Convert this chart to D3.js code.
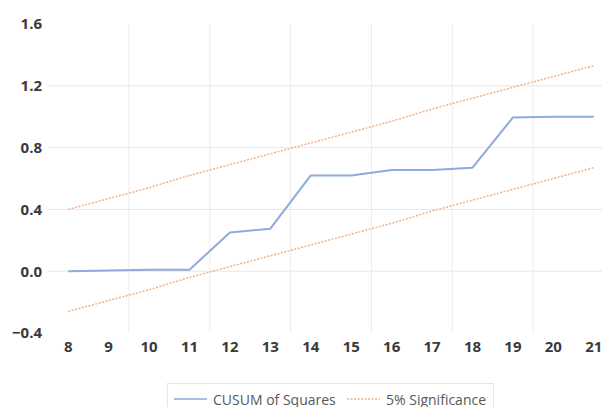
<!DOCTYPE html>
<html><head><meta charset="utf-8">
<script src="https://cdn.jsdelivr.net/npm/d3@7"></script>
<style>body{margin:0;background:#fff}svg{display:block}</style>
</head><body>
<svg id="c" width="602" height="407"></svg>
<script>
const categories = [8,9,10,11,12,13,14,15,16,17,18,19,20,21];
const cusumSq = [0.0,0.005,0.01,0.01,0.25,0.275,0.62,0.62,0.655,0.655,0.67,0.995,1.0,1.0];
const lower5 = [-0.26,-0.19,-0.12,-0.04,0.03,0.10,0.17,0.24,0.31,0.39,0.46,0.53,0.60,0.67];
const upper5 = [0.40,0.47,0.54,0.62,0.69,0.76,0.83,0.90,0.97,1.05,1.12,1.19,1.26,1.33];
const yTicks = [-0.4,0.0,0.4,0.8,1.2,1.6];
const seriesNames = ["CUSUM of Squares","5% Significance"];

const svg = d3.select("#c");
const x = d3.scaleBand().domain(categories).range([48,614]);
const cx = d => x(d) + x.bandwidth()/2;
const y = d3.scaleLinear().domain([-0.4,1.6]).range([333,24]);
const font = "'Open Sans', sans-serif";

// gridlines
const g = svg.append("g");
g.selectAll("line.h").data(yTicks.filter(t => t > -0.4 && t < 1.6)).join("line")
  .attr("x1",48).attr("x2",614).attr("y1",d=>y(d)).attr("y2",d=>y(d))
  .attr("stroke","#e6e6e6").attr("stroke-width",1);
g.selectAll("line.v").data(categories.filter((d,i)=> i>0 && i%2===0)).join("line")
  .attr("x1",d=>x(d)).attr("x2",d=>x(d)).attr("y1",y(1.6)).attr("y2",y(-0.4))
  .attr("stroke","#ececec").attr("stroke-width",1);

// y axis
const yAxis = d3.axisLeft(y).tickValues(yTicks).tickFormat(d3.format(".1f")).tickSize(0).tickPadding(6);
const ya = svg.append("g").attr("transform","translate(48,0)").call(yAxis);
ya.select(".domain").remove();
ya.selectAll("text").attr("font-family",font).attr("font-size",15).attr("font-weight",700).attr("fill","#3a3a3a");

// x axis
const xAxis = d3.axisBottom(x).tickSize(0).tickPadding(8);
const xa = svg.append("g").attr("transform","translate(0,333)").call(xAxis);
xa.select(".domain").remove();
xa.selectAll("text").attr("font-family",font).attr("font-size",15).attr("font-weight",700).attr("fill","#3a3a3a");

const line = d3.line().x((d,i)=>cx(categories[i])).y(d=>y(d));
[lower5, upper5].forEach(s => {
  svg.append("path").attr("d",line(s)).attr("fill","none")
    .attr("stroke","#f4b183").attr("stroke-width",1.5).attr("stroke-dasharray","2,1.5");
});
svg.append("path").attr("d",line(cusumSq)).attr("fill","none")
  .attr("stroke","#8faadc").attr("stroke-width",2).attr("stroke-linejoin","round");

// legend
const lg = svg.append("g");
lg.append("rect").attr("x",167.5).attr("y",383.5).attr("width",326).attr("height",30)
  .attr("fill","#fff").attr("stroke","#e6e6e6");
const items = [{name:seriesNames[0],x:174,color:"#8faadc",dash:null,w:1.5},
               {name:seriesNames[1],x:347,color:"#f4b183",dash:"2,1.5",w:1.5}];
items.forEach(it => {
  lg.append("line").attr("x1",it.x).attr("x2",it.x+33).attr("y1",399).attr("y2",399)
    .attr("stroke",it.color).attr("stroke-width",it.w).attr("stroke-dasharray",it.dash);
  lg.append("text").attr("x",it.x+39).attr("y",404.5).text(it.name)
    .attr("font-family",font).attr("font-size",14).attr("fill","#595959");
});
</script>
</body></html>
